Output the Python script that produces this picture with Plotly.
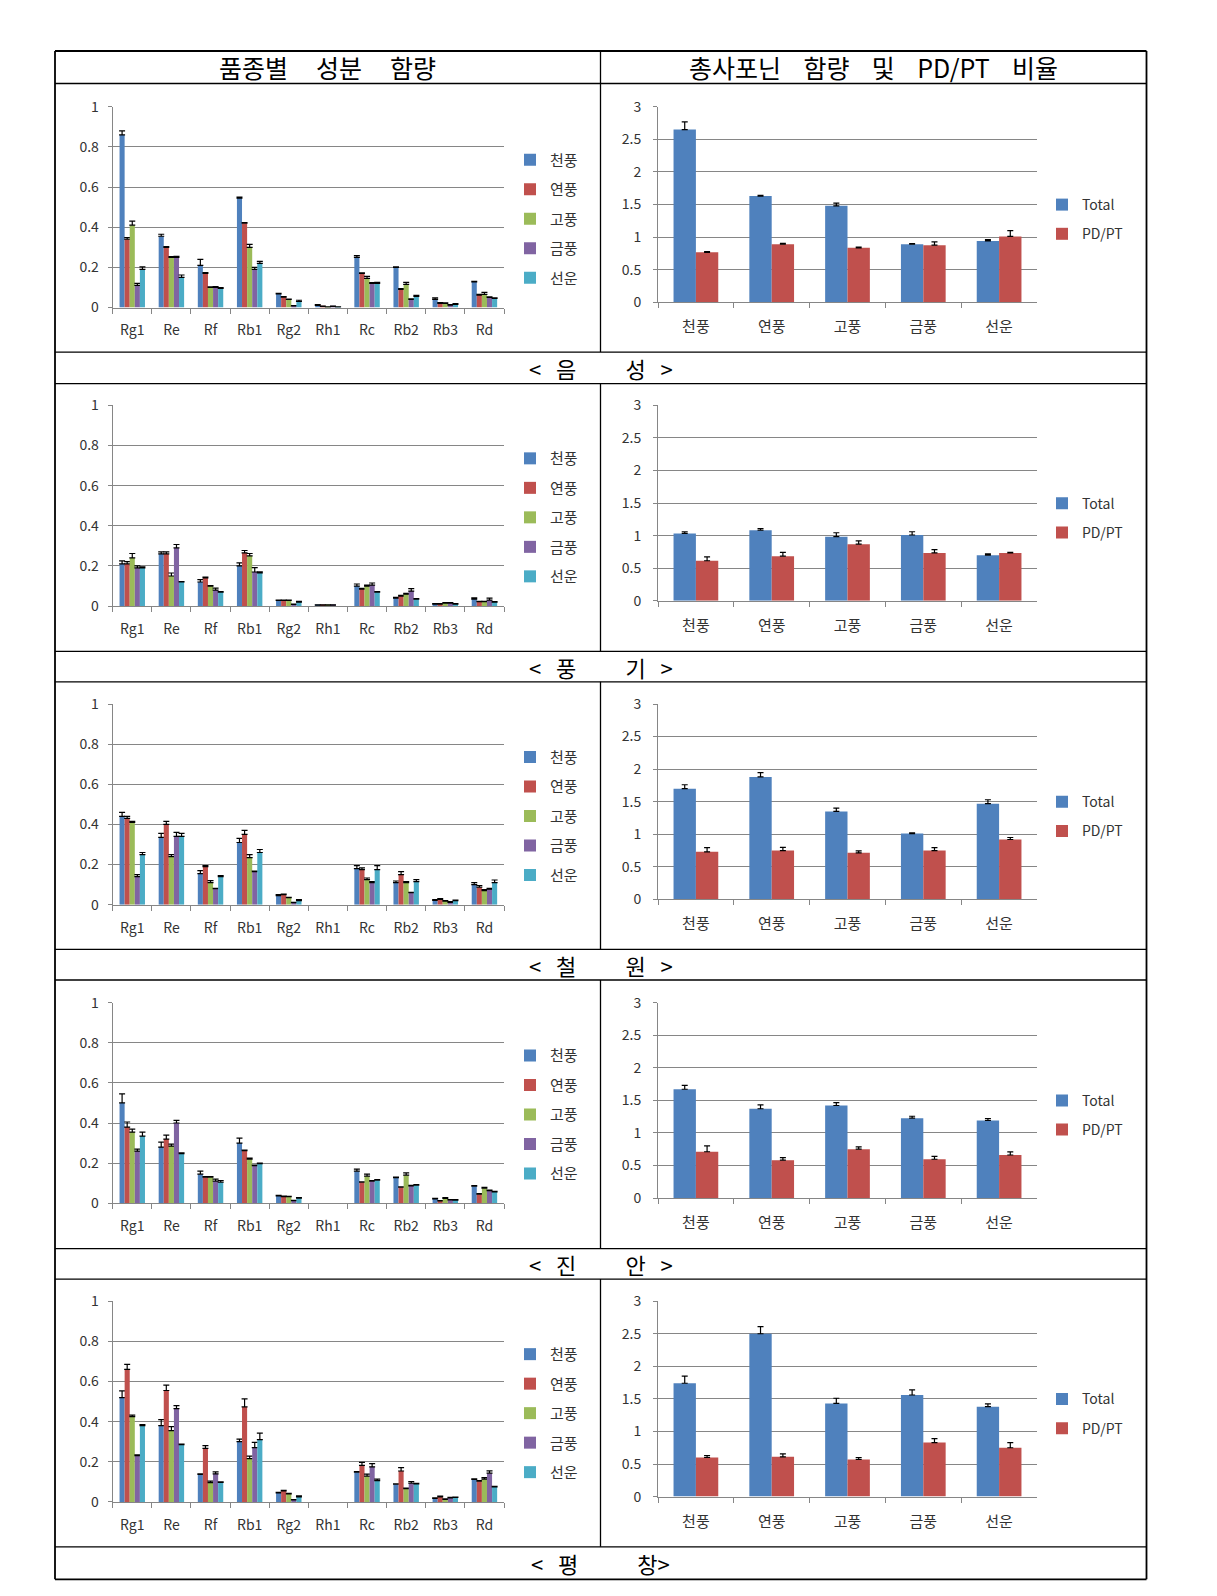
import plotly.graph_objects as go

W, H = 1217, 1596
FONT = "Noto Sans CJK KR"
NB = "\u00a0"

ingredients = ["Rg1", "Re", "Rf", "Rb1", "Rg2", "Rh1", "Rc", "Rb2", "Rb3", "Rd"]
varieties = ["천풍", "연풍", "고풍", "금풍", "선운"]
summary_series = ["Total", "PD/PT"]
region_names = [("음", "성"), ("풍", "기"), ("철", "원"), ("진", "안"), ("평", "창")]
region_labels = ["<" + NB * 3 + a + NB * 10 + b + NB * 3 + ">" for a, b in region_names[:4]]
region_labels.append("<" + NB * 3 + region_names[4][0] + NB * 12 + region_names[4][1] + ">")
header_left = (NB * 5).join(["품종별", "성분", "함량"])
header_right = (NB * 4).join(["총사포닌", "함량", "및", "PD/PT", "비율"])

# ---- per-ingredient rows: values for [천풍, 연풍, 고풍, 금풍, 선운] ----
eumseong_mean = [
    [0.86, 0.34, 0.41, 0.11, 0.19],
    [0.355, 0.30, 0.25, 0.25, 0.15],
    [0.21, 0.17, 0.10, 0.10, 0.095],
    [0.545, 0.42, 0.30, 0.19, 0.22],
    [0.068, 0.052, 0.04, 0.008, 0.03],
    [0.01, 0.005, 0.002, 0.005, 0.002],
    [0.25, 0.17, 0.145, 0.12, 0.12],
    [0.20, 0.09, 0.115, 0.04, 0.055],
    [0.04, 0.02, 0.02, 0.012, 0.015],
    [0.128, 0.062, 0.065, 0.05, 0.045],
]
eumseong_err = [
    [0.02, 0.008, 0.02, 0.01, 0.012],
    [0.01, 0.003, 0.004, 0.005, 0.012],
    [0.03, 0.004, 0.003, 0.004, 0.004],
    [0.005, 0.003, 0.015, 0.01, 0.01],
    [0.002, 0.002, 0.002, 0.002, 0.006],
    [0.004, 0.002, 0.001, 0.002, 0.001],
    [0.008, 0.003, 0.01, 0.004, 0.005],
    [0.002, 0.004, 0.01, 0.003, 0.006],
    [0.008, 0.004, 0.003, 0.002, 0.004],
    [0.002, 0.003, 0.01, 0.003, 0.003],
]
punggi_mean = [
    [0.21, 0.21, 0.24, 0.19, 0.19],
    [0.26, 0.26, 0.15, 0.29, 0.12],
    [0.12, 0.14, 0.10, 0.08, 0.07],
    [0.20, 0.265, 0.25, 0.17, 0.165],
    [0.028, 0.028, 0.028, 0.008, 0.02],
    [0.005, 0.005, 0.005, 0.005, 0.0],
    [0.10, 0.085, 0.10, 0.105, 0.07],
    [0.04, 0.05, 0.06, 0.075, 0.035],
    [0.01, 0.01, 0.015, 0.015, 0.01],
    [0.035, 0.022, 0.022, 0.03, 0.02],
]
punggi_err = [
    [0.015, 0.012, 0.022, 0.01, 0.005],
    [0.01, 0.01, 0.015, 0.017, 0.002],
    [0.012, 0.004, 0.002, 0.01, 0.002],
    [0.015, 0.012, 0.012, 0.022, 0.006],
    [0.002, 0.002, 0.002, 0.002, 0.004],
    [0.001, 0.001, 0.001, 0.001, 0.0],
    [0.01, 0.004, 0.005, 0.01, 0.002],
    [0.004, 0.004, 0.004, 0.012, 0.002],
    [0.002, 0.002, 0.002, 0.002, 0.002],
    [0.006, 0.002, 0.002, 0.01, 0.002],
]
cheorwon_mean = [
    [0.44, 0.43, 0.41, 0.14, 0.25],
    [0.335, 0.40, 0.24, 0.34, 0.34],
    [0.155, 0.19, 0.11, 0.08, 0.14],
    [0.31, 0.35, 0.235, 0.165, 0.26],
    [0.045, 0.05, 0.035, 0.01, 0.02],
    [0.0, 0.0, 0.0, 0.0, 0.0],
    [0.18, 0.175, 0.125, 0.11, 0.175],
    [0.11, 0.15, 0.11, 0.06, 0.115],
    [0.022, 0.027, 0.018, 0.012, 0.02],
    [0.10, 0.087, 0.07, 0.078, 0.11],
]
cheorwon_err = [
    [0.02, 0.01, 0.005, 0.01, 0.01],
    [0.02, 0.015, 0.01, 0.02, 0.015],
    [0.015, 0.005, 0.01, 0.002, 0.005],
    [0.02, 0.02, 0.015, 0.002, 0.015],
    [0.005, 0.003, 0.002, 0.002, 0.005],
    [0.0, 0.0, 0.0, 0.0, 0.0],
    [0.015, 0.008, 0.008, 0.005, 0.02],
    [0.008, 0.015, 0.005, 0.002, 0.01],
    [0.003, 0.003, 0.003, 0.003, 0.003],
    [0.01, 0.008, 0.005, 0.003, 0.013],
]
jinan_mean = [
    [0.50, 0.38, 0.355, 0.26, 0.335],
    [0.28, 0.32, 0.285, 0.40, 0.248],
    [0.145, 0.13, 0.13, 0.11, 0.105],
    [0.30, 0.262, 0.22, 0.187, 0.197],
    [0.037, 0.033, 0.033, 0.013, 0.026],
    [0.0, 0.0, 0.0, 0.0, 0.0],
    [0.16, 0.105, 0.135, 0.11, 0.115],
    [0.128, 0.08, 0.14, 0.087, 0.09],
    [0.022, 0.012, 0.025, 0.017, 0.016],
    [0.085, 0.045, 0.075, 0.063, 0.057],
]
jinan_err = [
    [0.045, 0.025, 0.015, 0.01, 0.02],
    [0.025, 0.02, 0.01, 0.013, 0.003],
    [0.015, 0.003, 0.003, 0.01, 0.008],
    [0.025, 0.003, 0.005, 0.003, 0.003],
    [0.003, 0.003, 0.002, 0.002, 0.003],
    [0.0, 0.0, 0.0, 0.0, 0.0],
    [0.01, 0.002, 0.01, 0.003, 0.003],
    [0.003, 0.002, 0.012, 0.003, 0.003],
    [0.003, 0.002, 0.004, 0.002, 0.002],
    [0.003, 0.003, 0.005, 0.003, 0.002],
]
pyeongchang_mean = [
    [0.52, 0.66, 0.425, 0.23, 0.38],
    [0.38, 0.555, 0.355, 0.465, 0.285],
    [0.137, 0.267, 0.096, 0.14, 0.097],
    [0.30, 0.473, 0.216, 0.27, 0.31],
    [0.045, 0.055, 0.04, 0.01, 0.025],
    [0.0, 0.0, 0.0, 0.0, 0.0],
    [0.148, 0.182, 0.128, 0.175, 0.106],
    [0.088, 0.154, 0.066, 0.093, 0.09],
    [0.018, 0.025, 0.013, 0.02, 0.022],
    [0.112, 0.103, 0.113, 0.143, 0.075],
]
pyeongchang_err = [
    [0.033, 0.025, 0.007, 0.005, 0.005],
    [0.03, 0.027, 0.02, 0.015, 0.003],
    [0.003, 0.013, 0.008, 0.01, 0.003],
    [0.013, 0.04, 0.012, 0.027, 0.033],
    [0.003, 0.003, 0.002, 0.002, 0.005],
    [0.0, 0.0, 0.0, 0.0, 0.0],
    [0.003, 0.015, 0.01, 0.016, 0.007],
    [0.002, 0.017, 0.003, 0.008, 0.003],
    [0.002, 0.004, 0.002, 0.003, 0.002],
    [0.003, 0.003, 0.008, 0.012, 0.002],
]

# ---- total saponin and PD/PT ratio, per variety ----
eumseong_total = [2.65, 1.63, 1.48, 0.89, 0.94]
eumseong_total_err = [0.12, 0.01, 0.04, 0.01, 0.02]
eumseong_pdpt = [0.765, 0.89, 0.835, 0.875, 1.01]
eumseong_pdpt_err = [0.01, 0.015, 0.01, 0.05, 0.09]
punggi_total = [1.035, 1.085, 0.985, 1.01, 0.70]
punggi_total_err = [0.025, 0.025, 0.06, 0.05, 0.02]
punggi_pdpt = [0.615, 0.685, 0.87, 0.735, 0.735]
punggi_pdpt_err = [0.06, 0.06, 0.05, 0.05, 0.01]
cheorwon_total = [1.70, 1.88, 1.35, 1.01, 1.47]
cheorwon_total_err = [0.06, 0.065, 0.05, 0.01, 0.06]
cheorwon_pdpt = [0.73, 0.75, 0.715, 0.75, 0.92]
cheorwon_pdpt_err = [0.065, 0.05, 0.03, 0.045, 0.03]
jinan_total = [1.67, 1.37, 1.42, 1.225, 1.19]
jinan_total_err = [0.06, 0.06, 0.045, 0.03, 0.03]
jinan_pdpt = [0.71, 0.58, 0.75, 0.595, 0.66]
jinan_pdpt_err = [0.09, 0.04, 0.035, 0.045, 0.047]
pyeongchang_total = [1.74, 2.50, 1.43, 1.56, 1.38]
pyeongchang_total_err = [0.11, 0.11, 0.08, 0.08, 0.045]
pyeongchang_pdpt = [0.60, 0.61, 0.57, 0.83, 0.75]
pyeongchang_pdpt_err = [0.03, 0.045, 0.03, 0.06, 0.08]

left_data = [(eumseong_mean, eumseong_err), (punggi_mean, punggi_err),
             (cheorwon_mean, cheorwon_err), (jinan_mean, jinan_err),
             (pyeongchang_mean, pyeongchang_err)]
right_data = [
    (eumseong_total, eumseong_total_err, eumseong_pdpt, eumseong_pdpt_err),
    (punggi_total, punggi_total_err, punggi_pdpt, punggi_pdpt_err),
    (cheorwon_total, cheorwon_total_err, cheorwon_pdpt, cheorwon_pdpt_err),
    (jinan_total, jinan_total_err, jinan_pdpt, jinan_pdpt_err),
    (pyeongchang_total, pyeongchang_total_err, pyeongchang_pdpt, pyeongchang_pdpt_err),
]

variety_colors = ["#4F81BD", "#C0504D", "#9BBB59", "#8064A2", "#4BACC6"]
summary_colors = ["#4F81BD", "#C0504D"]
GRID = "#868686"
TXT = "#333333"


def px(x):
    return x / W


def py(y):
    return 1 - y / H


def present(vals):
    # a compound not detected (0) is drawn as no bar and no error bar
    return [v if v > 0 else None for v in vals]


ROW_STEP = 298.6
fig = go.Figure()
layout = dict(
    width=W, height=H, autosize=False,
    margin=dict(l=0, r=0, t=0, b=0, autoexpand=False),
    paper_bgcolor="white", plot_bgcolor="white",
    barmode="group", bargap=0.35,
    font=dict(family=FONT, size=13, color=TXT),
    showlegend=True,
)


def ax_name(kind, k):
    return kind if k == 1 else f"{kind}{k}"


def legend_name(k):
    return "legend" if k == 1 else f"legend{k}"


k = 0
for r in range(5):
    dy = ROW_STEP * r
    # ---------- left chart ----------
    k += 1
    means, errs = left_data[r]
    n_var = len(varieties)
    bw = 0.13
    for i, vname in enumerate(varieties):
        vals = [row[i] for row in means]
        e = [row[i] for row in errs]
        fig.add_trace(go.Bar(
            x=ingredients, y=present(vals), name=vname,
            marker=dict(color=variety_colors[i], line=dict(width=0)),
            width=bw, offset=-bw * n_var / 2 + i * bw,
            error_y=dict(type="data", array=e, arrayminus=[0] * len(e), symmetric=False,
                         color="#000000", thickness=1.2, width=3),
            xaxis=ax_name("x", k), yaxis=ax_name("y", k),
            legend=legend_name(k), legendgroup=f"g{k}_{i}",
        ))
    layout[ax_name("xaxis", k)] = dict(
        domain=[px(112.7), px(504)], anchor=ax_name("y", k), type="category",
        categoryorder="array", categoryarray=ingredients,
        range=[-0.5, len(ingredients) - 0.5], showgrid=False,
        showline=True, linecolor=GRID, linewidth=1,
        ticks="outside", tickson="boundaries", ticklen=5, tickcolor=GRID,
        tickfont=dict(size=14, color=TXT, family=FONT), ticklabelstandoff=10,
        fixedrange=True,
    )
    layout[ax_name("yaxis", k)] = dict(
        domain=[py(307.5 + dy), py(106.8 + dy)], anchor=ax_name("x", k),
        range=[0, 1], dtick=0.2, tick0=0, showgrid=True, gridcolor=GRID, gridwidth=1,
        showline=True, linecolor=GRID, linewidth=1, zeroline=False,
        ticks="outside", ticklen=4, tickcolor=GRID,
        tickfont=dict(size=14, color=TXT, family=FONT), ticklabelstandoff=6,
        fixedrange=True,
    )
    layout[legend_name(k)] = dict(
        x=px(510), y=py(143.5 + dy), xanchor="left", yanchor="top",
        bgcolor="rgba(0,0,0,0)", font=dict(size=15, color=TXT, family=FONT),
        traceorder="grouped", tracegroupgap=7, itemclick=False, itemdoubleclick=False,
    )

    # ---------- right chart ----------
    k += 1
    tot, tot_e, pdpt, pdpt_e = right_data[r]
    bw2 = 0.295
    for i, (sname, vals, e) in enumerate([(summary_series[0], tot, tot_e),
                                          (summary_series[1], pdpt, pdpt_e)]):
        fig.add_trace(go.Bar(
            x=varieties, y=vals, name=sname,
            marker=dict(color=summary_colors[i], line=dict(width=0)),
            width=bw2, offset=-bw2 + i * bw2,
            error_y=dict(type="data", array=e, arrayminus=[0] * len(e), symmetric=False,
                         color="#000000", thickness=1.2, width=3),
            xaxis=ax_name("x", k), yaxis=ax_name("y", k),
            legend=legend_name(k), legendgroup=f"g{k}_{i}",
        ))
    layout[ax_name("xaxis", k)] = dict(
        domain=[px(658), px(1037)], anchor=ax_name("y", k), type="category",
        range=[-0.5, len(varieties) - 0.5], showgrid=False,
        showline=True, linecolor=GRID, linewidth=1,
        ticks="outside", tickson="boundaries", ticklen=5, tickcolor=GRID,
        tickfont=dict(size=15, color=TXT, family=FONT), ticklabelstandoff=11,
        fixedrange=True,
    )
    layout[ax_name("yaxis", k)] = dict(
        domain=[py(302.2 + dy), py(106.8 + dy)], anchor=ax_name("x", k),
        range=[0, 3], dtick=0.5, tick0=0, showgrid=True, gridcolor=GRID, gridwidth=1,
        showline=True, linecolor=GRID, linewidth=1, zeroline=False,
        ticks="outside", ticklen=4, tickcolor=GRID,
        tickfont=dict(size=14, color=TXT, family=FONT), ticklabelstandoff=9,
        fixedrange=True,
    )
    layout[legend_name(k)] = dict(
        x=px(1042), y=py(189 + dy), xanchor="left", yanchor="top",
        bgcolor="rgba(0,0,0,0)", font=dict(size=14, color=TXT, family=FONT),
        traceorder="grouped", tracegroupgap=8, itemclick=False, itemdoubleclick=False,
    )

# ---------- table frame ----------
X_L, X_M, X_R = 55, 600.5, 1146.5
Y_TOP, Y_HEAD = 51, 83.5
label_rows = [(352.1, 383.6), (651.3, 681.8), (949.4, 980.0), (1248.6, 1279.1), (1546.8, 1579.3)]
shapes = []


def hline(y, w=1.3):
    shapes.append(dict(type="line", xref="paper", yref="paper", x0=px(X_L), x1=px(X_R),
                       y0=py(y), y1=py(y), line=dict(color="black", width=w)))


def vline(x, y0, y1, w=1.3):
    shapes.append(dict(type="line", xref="paper", yref="paper", x0=px(x), x1=px(x),
                       y0=py(y0), y1=py(y1), line=dict(color="black", width=w)))


hline(Y_TOP, 1.8)
hline(Y_HEAD)
prev = Y_TOP
for (a, b) in label_rows:
    hline(a)
    hline(b, 1.8 if b == label_rows[-1][1] else 1.3)
    vline(X_M, prev, a)
    prev = b
vline(X_L, Y_TOP, label_rows[-1][1], 1.8)
vline(X_R, Y_TOP, label_rows[-1][1], 1.8)
layout["shapes"] = shapes

annotations = [
    dict(text=header_left, x=px((X_L + X_M) / 2), y=py((Y_TOP + Y_HEAD) / 2),
         xref="paper", yref="paper", showarrow=False, xanchor="center", yanchor="middle",
         font=dict(size=25, color="black", family=FONT)),
    dict(text=header_right, x=px((X_M + X_R) / 2), y=py((Y_TOP + Y_HEAD) / 2),
         xref="paper", yref="paper", showarrow=False, xanchor="center", yanchor="middle",
         font=dict(size=25, color="black", family=FONT)),
]
for (a, b), lab in zip(label_rows, region_labels):
    annotations.append(dict(text=lab, x=px((X_L + X_R) / 2), y=py((a + b) / 2),
                            xref="paper", yref="paper", showarrow=False,
                            xanchor="center", yanchor="middle",
                            font=dict(size=22, color="black", family=FONT)))
layout["annotations"] = annotations

fig.update_layout(**layout)
fig.write_html("out.html", config={"displayModeBar": False, "responsive": False},
               post_script="document.body.style.margin='0';")
